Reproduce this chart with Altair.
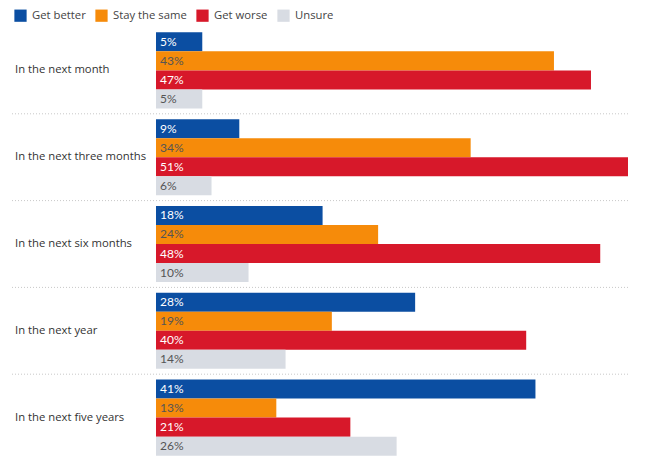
import altair as alt
import pandas as pd

groups = ["In the next month", "In the next three months", "In the next six months",
          "In the next year", "In the next five years"]
series = ["Get better", "Stay the same", "Get worse", "Unsure"]
better = [5, 9, 18, 28, 41]
same = [43, 34, 24, 19, 13]
worse = [47, 51, 48, 40, 21]
unsure = [5, 6, 10, 14, 26]
colors = ["#0b4ea2", "#f68b0a", "#d7182a", "#d8dce3"]

rows = []
for i, g in enumerate(groups):
    for s, vals in zip(series, [better, same, worse, unsure]):
        rows.append({"group": g, "series": s, "value": vals[i]})
df = pd.DataFrame(rows)
gdf = pd.DataFrame({"group": groups})
sep = pd.DataFrame({"group": groups[:-1]})

FONT = "Open Sans"
yscale = alt.Scale(domain=groups, paddingInner=0, paddingOuter=0)
y = alt.Y("group:N", scale=yscale, axis=None)
yoff = alt.YOffset("series:N", sort=series, scale=alt.Scale(domain=series, paddingInner=0, paddingOuter=0.28))
xscale = alt.Scale(domain=[0, 51], nice=False, zero=True)

bars = alt.Chart(df).mark_bar(cornerRadius=0).encode(
    x=alt.X("value:Q", scale=xscale, axis=None),
    y=y,
    yOffset=yoff,
    color=alt.Color("series:N", sort=series,
                    scale=alt.Scale(domain=series, range=colors),
                    legend=alt.Legend(title=None, orient="none", direction="horizontal",
                                      legendX=-142, legendY=-18, symbolType="square",
                                      symbolSize=150, symbolStrokeWidth=0,
                                      labelFont=FONT, labelFontSize=11.3, labelColor="#444",
                                      labelOffset=5, columnPadding=9)),
)

labels = alt.Chart(df).transform_calculate(txt="datum.value + '%'").mark_text(
    align="left", baseline="middle", font="Lato", fontSize=12).encode(
    x=alt.value(4),
    y=y,
    yOffset=yoff,
    text="txt:N",
    color=alt.condition("datum.series == 'Get better' || datum.series == 'Get worse'",
                        alt.value("white"), alt.value("#555")),
)

glabels = alt.Chart(gdf).mark_text(align="left", baseline="middle", font=FONT, fontSize=11.3,
                                   color="#333").encode(
    x=alt.value(-141),
    y=y,
    text="group:N",
)

seps = alt.Chart(sep).mark_rule(color="#c8c8c8", strokeDash=[1, 2], strokeWidth=1).encode(
    x=alt.value(-144),
    x2=alt.value(472),
    y=alt.Y("group:N", scale=yscale, axis=None, bandPosition=1),
)

chart = alt.layer(seps, bars, labels, glabels).properties(
    width=472, height=434,
    padding={"left": 148, "top": 19, "right": 0, "bottom": 0},
    autosize="none",
).configure_view(strokeWidth=0)

chart.save("out.html", embed_options={"renderer": "svg", "actions": False})
